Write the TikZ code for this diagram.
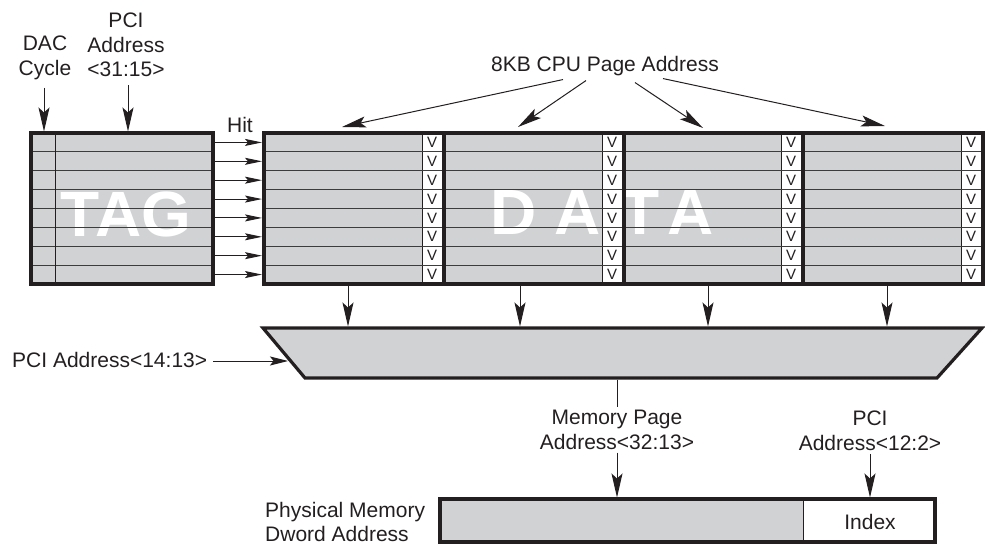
\documentclass[tikz,border=0pt]{standalone}
\usepackage{fontspec}
\setmainfont{Liberation Sans}
\usetikzlibrary{arrows.meta,calc}
\definecolor{cellgray}{RGB}{209,210,212}
\definecolor{ink}{RGB}{35,31,32}
\definecolor{rowline}{RGB}{60,60,60}

\begin{document}
\begin{tikzpicture}[x=1pt,y=-1pt,
  lbl/.style={font=\fontsize{21}{24.5}\selectfont, text=ink, inner sep=0pt, align=center},
  frame/.style={draw=ink, line width=3.2pt},
  rowrule/.style={draw=rowline, line width=1.1pt},
  thinrule/.style={draw=ink, line width=0.9pt},
  bigtip/.style={-{Stealth[length=24pt,width=11pt,inset=5pt]}, line width=1pt, draw=ink},
  smalltip/.style={-{Stealth[length=17pt,width=7pt,inset=3pt]}, line width=1pt, draw=ink},
  midtip/.style={-{Stealth[length=18pt,width=9pt,inset=3.5pt]}, line width=1pt, draw=ink},
  vmark/.style={font=\fontsize{15}{15}\selectfont, text=ink, inner sep=0pt},
  bigletter/.style={font=\fontsize{64}{64}\selectfont\bfseries, text=white, inner sep=0pt},
]
\useasboundingbox (0,0) rectangle (985,545);

% ---------- TAG array ----------
\fill[cellgray] (31,133) rectangle (213,284);
\node[bigletter] (tagword) at (126,214) {TAG};
\foreach \i in {1,...,7}
  \draw[rowrule] (31,{133+\i*18.875}) -- (213,{133+\i*18.875});
\draw[thinrule] (55,133) -- (55,284);
\draw[frame] (31,133) rectangle (213,284);

% ---------- DATA array ----------
\fill[cellgray] (264,133) rectangle (983,284);
\node[bigletter] (dD)  at (514,212) {D};
\node[bigletter] (dA1) at (578,212) {A};
\node[bigletter] (dT)  at (640,212) {T};
\node[bigletter] (dA2) at (691,212) {A};
\foreach \r in {444,624,803,983}{
  \fill[white] ({\r-22},133) rectangle (\r,284);
  \draw[thinrule] ({\r-22},133) -- ({\r-22},284);
  \foreach \i in {0,...,7}
    \node[vmark] at ({\r-12},{133+(\i+0.5)*18.875}) {V};
}
\foreach \i in {1,...,7}
  \draw[rowrule] (264,{133+\i*18.875}) -- (983,{133+\i*18.875});
\foreach \r in {444,624,803}
  \draw[frame] (\r,133) -- (\r,284);
\draw[frame] (264,133) rectangle (983,284);

% ---------- hit lines from TAG to DATA ----------
\foreach \i in {0,...,7}{
  \coordinate (hitsrc\i) at (214.5,{133+(\i+0.5)*18.875});
  \coordinate (hitdst\i) at (262,{133+(\i+0.5)*18.875});
  \draw[smalltip] (hitsrc\i) -- (hitdst\i);
}
\node[lbl, anchor=base] (hit) at (240,133) {Hit};

% ---------- inputs to TAG ----------
\node[lbl, anchor=north] (dac) at (45,36) {DAC\\Cycle};
\node[lbl, anchor=north] (pcihi) at (126,13) {PCI\\Address\\<31:15>};
\coordinate (dacin) at (44,131.5);
\coordinate (pcihiin) at (128,131.5);
\draw[bigtip, shorten <=8pt] (dac.south -| dacin) -- (dacin);
\draw[bigtip, shorten <=8pt] (pcihi.south -| pcihiin) -- (pcihiin);

% ---------- page address arrows ----------
\node[lbl, anchor=base] (cpu) at (605,72) {8KB CPU Page Address};
\coordinate (pg1) at (342,127);
\coordinate (pg2) at (518,127);
\coordinate (pg3) at (703,128);
\coordinate (pg4) at (885,126);
\draw[bigtip] ($(cpu.south)+(-42,3)$) -- (pg1);
\draw[bigtip] ($(cpu.south)+(-19,4)$) -- (pg2);
\draw[bigtip] ($(cpu.south)+(30,6)$) -- (pg3);
\draw[bigtip] ($(cpu.south)+(58,2)$) -- (pg4);

% ---------- selector ----------
\draw[frame, fill=cellgray] (263,328) coordinate (muxtl) -- (982,328) coordinate (muxtr)
  -- (937,378) coordinate (muxbr) -- (305,378) coordinate (muxbl) -- cycle;
\foreach \x [count=\k] in {348,520,708,887}{
  \coordinate (colout\k) at (\x,285.5);
  \coordinate (muxin\k) at (\x,326.5);
  \draw[bigtip] (colout\k) -- (muxin\k);
}
\node[lbl, anchor=base west] (pcimid) at (12,367) {PCI Address<14:13>};
\coordinate (muxsel) at (288,361);
\draw[midtip, shorten <=6pt] (pcimid.east |- muxsel) -- (muxsel);

% ---------- physical address ----------
\node[lbl, anchor=north] (mempage) at (617,410) {Memory Page\\Address<32:13>};
\node[lbl, anchor=north] (pcilow) at (870,411) {PCI\\Address<12:2>};
\coordinate (muxout) at (617,379.5);
\draw[ink, line width=1pt, shorten >=3pt] (muxout) -- (mempage.north);

\fill[cellgray] (440,499) rectangle (803,542);
\fill[white] (803,499) rectangle (935,542);
\draw[thinrule] (803,499) -- (803,542);
\draw[frame] (440,499) rectangle (935,542);
\node[lbl, anchor=base] (index) at (870,529) {Index};
\node[lbl, anchor=north west, align=left] (phys) at (265,502) {Physical Memory\\Dword Address};

\coordinate (pagein) at (617,497.5);
\coordinate (indexin) at (870,497.5);
\draw[bigtip, shorten <=3pt] (mempage.south) -- (pagein);
\draw[bigtip, shorten <=3pt] (pcilow.south) -- (indexin);
\end{tikzpicture}
\end{document}
